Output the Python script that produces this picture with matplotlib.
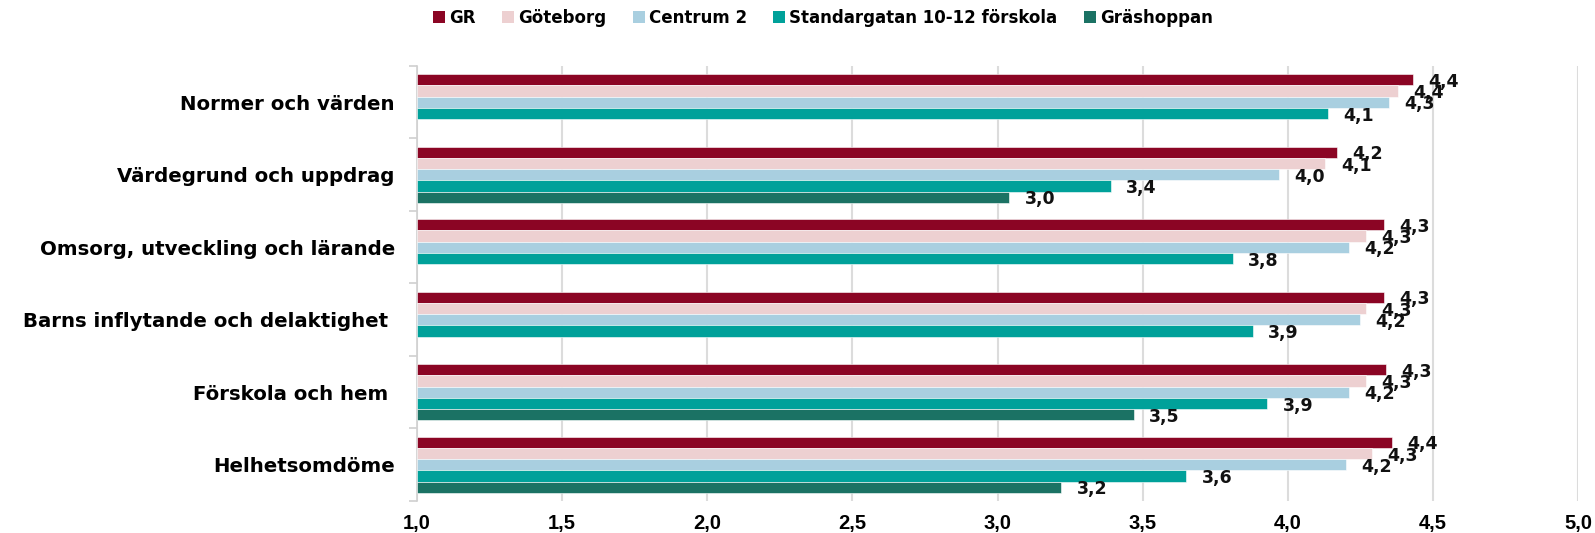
import matplotlib
matplotlib.use("Agg")
import matplotlib.pyplot as plt
from matplotlib.patches import Patch
import numpy as np

categories = ["Normer och värden", "Värdegrund och uppdrag", "Omsorg, utveckling och lärande",
              "Barns inflytande och delaktighet ", "Förskola och hem ", "Helhetsomdöme"]
series_names = ["GR", "Göteborg", "Centrum 2", "Standargatan 10-12 förskola", "Gräshoppan"]
gr = [4.43, 4.17, 4.33, 4.33, 4.34, 4.36]
goteborg = [4.38, 4.13, 4.27, 4.27, 4.27, 4.29]
centrum = [4.35, 3.97, 4.21, 4.25, 4.21, 4.20]
standargatan = [4.14, 3.39, 3.81, 3.88, 3.93, 3.65]
grashoppan = [None, 3.04, None, None, 3.47, 3.22]
xticks = [1.0, 1.5, 2.0, 2.5, 3.0, 3.5, 4.0, 4.5, 5.0]

colors = ["#8B0524", "#EDD0D1", "#A9CFE0", "#00A19A", "#1B7264"]
all_series = [gr, goteborg, centrum, standargatan, grashoppan]

fig = plt.figure(figsize=(15.95, 5.33), dpi=100)
ax = fig.add_axes([417/1595, 1-501/533, (1578-417)/1595, (501-66)/533])

bh = 0.1545
n = len(categories)
for s, (vals, col) in enumerate(zip(all_series, colors)):
    for i, v in enumerate(vals):
        if v is None:
            continue
        y = i + (s - 2) * bh
        ax.barh(y, v - 1.0, left=1.0, height=bh, color=col, edgecolor="white", linewidth=0.4, zorder=3)
        ax.annotate(f"{v:.1f}".replace(".", ","), xy=(v, y), xytext=(11, -1.5),
                    textcoords="offset points", ha="left", va="center",
                    fontsize=12.5, fontweight="bold", color="#111111", zorder=4)

ax.set_xlim(1.0, 5.0)
ax.set_ylim(n - 0.5, -0.5)
ax.set_xticks(xticks)
ax.set_xticklabels([f"{t:.1f}".replace(".", ",") for t in xticks],
                   fontsize=14.5, fontweight="bold", family=["Liberation Sans", "DejaVu Sans"])
ax.tick_params(axis="x", length=0, pad=9)
ax.set_yticks(range(n))
ax.set_yticklabels(categories, fontsize=14.2, fontweight="bold")
ax.tick_params(axis="y", which="major", length=0, pad=16)
ax.set_yticks(np.arange(-0.5, n, 1.0), minor=True)
ax.tick_params(axis="y", which="minor", length=6, color="#d0d0d0", width=1.2)
ax.grid(axis="x", color="#dcdcdc", linewidth=1.5, zorder=0)
ax.set_axisbelow(True)
for sp in ["top", "right", "bottom"]:
    ax.spines[sp].set_visible(False)
ax.spines["left"].set_color("#d0d0d0")
ax.spines["left"].set_linewidth(1.2)

handles = [Patch(facecolor=c, edgecolor="none") for c in colors]
fig.legend(handles, series_names, loc="center", bbox_to_anchor=(0.516, 0.966), ncol=5,
           frameon=False, prop={"size": 12, "weight": "bold"},
           handlelength=0.7, handleheight=0.7, handletextpad=0.25, columnspacing=1.6)

fig.savefig("out.png", dpi=100)
